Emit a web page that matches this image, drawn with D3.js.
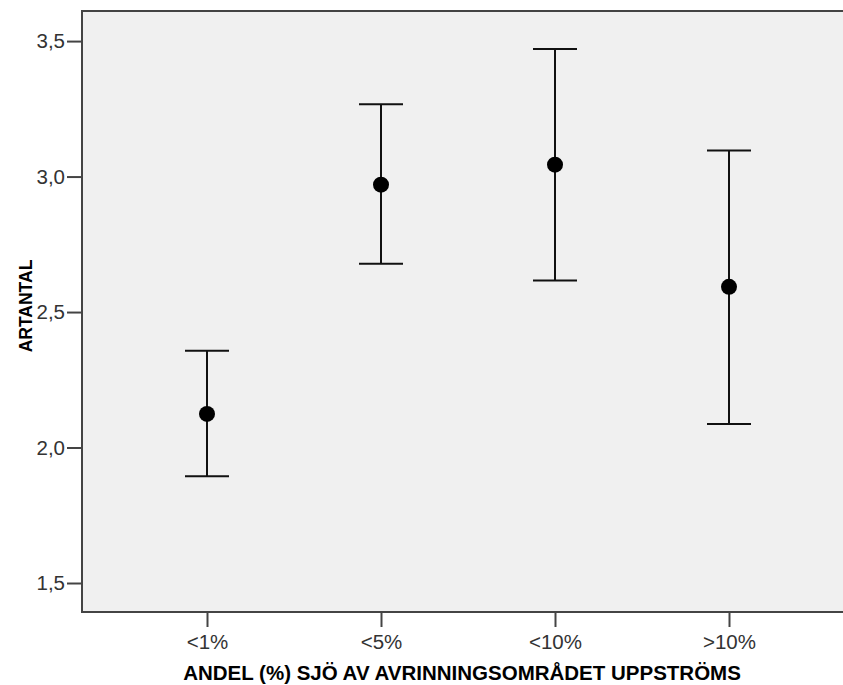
<!DOCTYPE html>
<html><head><meta charset="utf-8">
<script src="https://cdn.jsdelivr.net/npm/d3@7"></script>
<style>html,body{margin:0;background:#fff;overflow:hidden}svg{display:block}</style>
</head><body>
<svg id="c" width="843" height="685"></svg>
<script>
const categories = ["<1%", "<5%", "<10%", ">10%"];
const means = [2.124, 2.970, 3.044, 2.593];
const upper = [2.357, 3.267, 3.471, 3.096];
const lower = [1.894, 2.678, 2.616, 2.087];
const yTicks = [1.5, 2.0, 2.5, 3.0, 3.5];
const xTitle = "ANDEL (%) SJÖ AV AVRINNINGSOMRÅDET UPPSTRÖMS";
const yTitle = "ARTANTAL";

const W = 843, H = 685;
const m = {left: 82, top: 11, bottom: 73};
const plotBottom = H - m.bottom;
const svg = d3.select("#c");

const y = d3.scaleLinear().domain([1.393, 3.611]).range([plotBottom, m.top]);
const x = d3.scalePoint().domain(categories).range([m.left + 125, W - 114]);

svg.append("rect").attr("x", m.left).attr("y", m.top)
  .attr("width", W - m.left).attr("height", plotBottom - m.top)
  .attr("fill", "#f0f0f0");
const frame = svg.append("g").attr("stroke", "#444").attr("stroke-width", 2);
frame.append("line").attr("x1", m.left).attr("x2", W).attr("y1", m.top).attr("y2", m.top);
frame.append("line").attr("x1", m.left).attr("x2", W).attr("y1", plotBottom).attr("y2", plotBottom);
frame.append("line").attr("x1", m.left).attr("x2", m.left).attr("y1", m.top - 1).attr("y2", plotBottom + 1);

const fmt = d => d3.format(".1f")(d).replace(".", ",");
const yAxis = svg.append("g").attr("transform", `translate(${m.left},0)`)
  .call(d3.axisLeft(y).tickValues(yTicks).tickFormat(fmt).tickSize(15).tickPadding(2));
const xAxis = svg.append("g").attr("transform", `translate(0,${plotBottom})`)
  .call(d3.axisBottom(x).tickSize(15).tickPadding(7));
[yAxis, xAxis].forEach(g => {
  g.select(".domain").remove();
  g.selectAll(".tick line").attr("stroke", "#444").attr("stroke-width", 2);
  g.selectAll(".tick text").attr("fill", "#333")
    .style("font-family", "Liberation Sans, Arial, sans-serif").style("font-size", "20.5px");
});

const data = categories.map((c, i) => ({c, m: means[i], u: upper[i], l: lower[i]}));
const g = svg.append("g");
const capW = 22;
g.selectAll("line.v").data(data).enter().append("line")
  .attr("x1", d => x(d.c)).attr("x2", d => x(d.c))
  .attr("y1", d => y(d.u)).attr("y2", d => y(d.l))
  .attr("stroke", "#111").attr("stroke-width", 2);
g.selectAll("line.u").data(data).enter().append("line")
  .attr("x1", d => x(d.c) - capW).attr("x2", d => x(d.c) + capW)
  .attr("y1", d => y(d.u)).attr("y2", d => y(d.u))
  .attr("stroke", "#111").attr("stroke-width", 2);
g.selectAll("line.l").data(data).enter().append("line")
  .attr("x1", d => x(d.c) - capW).attr("x2", d => x(d.c) + capW)
  .attr("y1", d => y(d.l)).attr("y2", d => y(d.l))
  .attr("stroke", "#111").attr("stroke-width", 2);
g.selectAll("circle").data(data).enter().append("circle")
  .attr("cx", d => x(d.c)).attr("cy", d => y(d.m)).attr("r", 8).attr("fill", "#000");

svg.append("text").attr("x", 462).attr("y", 680)
  .attr("text-anchor", "middle").attr("font-weight", "bold")
  .style("font-family", "Liberation Sans, Arial, sans-serif").style("font-size", "20.5px")
  .text(xTitle);
svg.append("text").attr("transform", "translate(32,306) rotate(-90)")
  .attr("text-anchor", "middle").attr("font-weight", "bold")
  .style("font-family", "Liberation Sans, Arial, sans-serif").style("font-size", "17.5px")
  .text(yTitle);
</script>
</body></html>
